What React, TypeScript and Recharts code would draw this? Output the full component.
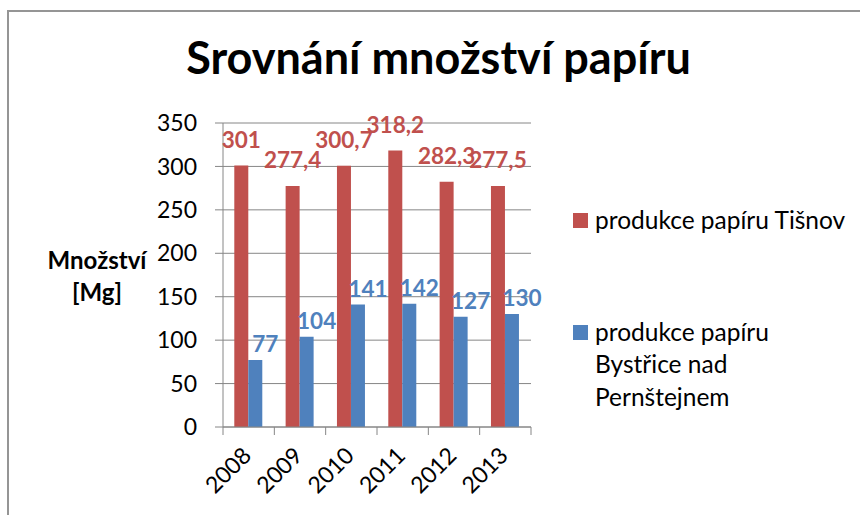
import { BarChart, Bar, XAxis, YAxis, CartesianGrid, Legend, LabelList } from 'recharts'

const years = ['2008', '2009', '2010', '2011', '2012', '2013']
const tisnov = [301, 277.4, 300.7, 318.2, 282.3, 277.5]
const bystrice = [77, 104, 141, 142, 127, 130]
const yTicks = [0, 50, 100, 150, 200, 250, 300, 350]

const TISNOV_NAME = 'produkce papíru Tišnov'
const BYSTRICE_NAME = 'produkce papíru\nBystřice nad\nPernštejnem'
const seriesOrder = ['tisnov', 'bystrice']

const RED = '#C0504D'
const BLUE = '#4F81BD'
const GRID = '#868686'

const W = 860
const H = 515
const margin = { top: 123, right: 329, left: 163, bottom: 28 }
const Y_W = 60
const X_H = 60
const PLOT_W = W - margin.left - margin.right - Y_W

const data = years.map((year, i) => ({ year, tisnov: tisnov[i], bystrice: bystrice[i] }))

const fmt = (v: any) => String(v).replace('.', ',')

const renderXTick = (props: any) => {
  const { x, y, payload, index } = props
  const band = PLOT_W / years.length
  return (
    <g>
      <line x1={x - band / 2} x2={x - band / 2} y1={y} y2={y + 8} stroke={GRID} />
      {index === years.length - 1 && (
        <line x1={x + band / 2} x2={x + band / 2} y1={y} y2={y + 8} stroke={GRID} />
      )}
      <text
        x={x + 4}
        y={y + 30}
        textAnchor="end"
        fill="#000"
        fontSize={23}
        transform={`rotate(-45 ${x + 4} ${y + 30})`}
      >
        {payload.value}
      </text>
    </g>
  )
}

const renderLegend = (props: any) => {
  const items = [...props.payload].sort(
    (a: any, b: any) => seriesOrder.indexOf(a.dataKey) - seriesOrder.indexOf(b.dataKey)
  )
  return (
    <div style={{ fontSize: 24.5, color: '#000', lineHeight: '32.5px' }}>
      {items.map((entry: any, i: number) => (
        <div key={i} style={{ display: 'flex', alignItems: 'flex-start', marginBottom: i === 0 ? 79.5 : 0 }}>
          <span style={{ width: 15, height: 15, background: entry.color, marginTop: 8.75, flex: 'none' }} />
          <span style={{ marginLeft: 7, whiteSpace: 'pre-line' }}>{entry.value}</span>
        </div>
      ))}
    </div>
  )
}

const App = () => {
  return (
    <div style={{ position: 'fixed', left: 0, top: 0, width: W, height: H, overflow: 'hidden', background: '#fff', fontFamily: 'Lato' }}>
      <div style={{ position: 'absolute', left: 7, top: 10, width: 900, height: 600, borderLeft: '2px solid #959595', borderTop: '2px solid #959595' }} />
      <div style={{ position: 'absolute', left: 0, top: 0 }}>
        <BarChart width={W} height={H} data={data} margin={margin} barCategoryGap="22%" barGap={0}>
          <CartesianGrid vertical={false} stroke={GRID} />
          <XAxis
            dataKey="year"
            tick={renderXTick}
            tickLine={false}
            tickSize={0}
            tickMargin={0}
            axisLine={{ stroke: GRID }}
            height={X_H}
            interval={0}
          />
          <YAxis
            domain={[0, 350]}
            ticks={yTicks}
            interval={0}
            tick={{ fill: '#000', fontSize: 23 }}
            tickSize={8}
            tickMargin={18}
            axisLine={{ stroke: GRID }}
            tickLine={{ stroke: GRID }}
            width={Y_W}
          />
          <Legend
            layout="vertical"
            align="center"
            verticalAlign="middle"
            content={renderLegend}
            wrapperStyle={{ left: 573, top: 203.75, width: 285 }}
          />
          <Bar dataKey="tisnov" name={TISNOV_NAME} fill={RED} isAnimationActive={false}>
            <LabelList dataKey="tisnov" position="top" offset={18} fill={RED} fontSize={22.5} fontWeight="bold" formatter={fmt} />
          </Bar>
          <Bar dataKey="bystrice" name={BYSTRICE_NAME} fill={BLUE} isAnimationActive={false}>
            <LabelList dataKey="bystrice" position="top" offset={8} dx={10} fill={BLUE} fontSize={22.5} fontWeight="bold" formatter={fmt} />
          </Bar>
        </BarChart>
      </div>
      <div style={{ position: 'absolute', left: 438.5, top: 34.5, transform: 'translateX(-50%)', fontSize: 45, lineHeight: '45px', fontWeight: 'bold', whiteSpace: 'nowrap', color: '#000' }}>
        Srovnání množství papíru
      </div>
      <div style={{ position: 'absolute', left: 32, top: 244, width: 130, textAlign: 'center', fontSize: 24, lineHeight: '32px', fontWeight: 'bold', color: '#000' }}>
        Množství
        <br />
        [Mg]
      </div>
    </div>
  )
}

export default App
